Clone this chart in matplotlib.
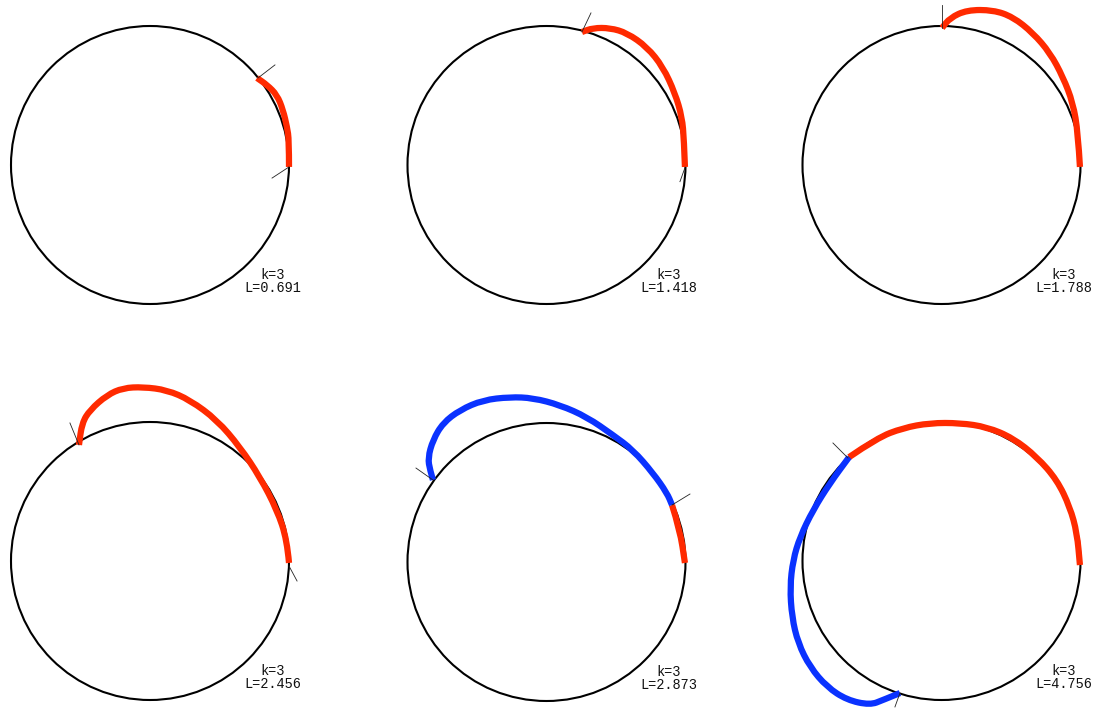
import numpy as np
import matplotlib.pyplot as plt
from matplotlib.patches import Circle, PathPatch
from matplotlib.path import Path

# panel labels
k_vals = [3, 3, 3, 3, 3, 3]
L_vals = ["0.691", "1.418", "1.788", "2.456", "2.873", "4.756"]

# curve points (unit circle coords)
red1 = [(0.77, 0.626), (0.842, 0.576), (0.914, 0.504), (0.957, 0.396),
        (0.986, 0.273), (1.0, 0.18), (1.0, -0.014)]
red2 = [(0.255, 0.957), (0.335, 0.986), (0.457, 0.986), (0.579, 0.95),
        (0.723, 0.849), (0.838, 0.705), (0.924, 0.518), (0.975, 0.345),
        (0.989, 0.18), (0.996, -0.014)]
red3 = [(0.004, 0.986), (0.061, 1.058), (0.183, 1.115), (0.371, 1.115),
        (0.514, 1.065), (0.658, 0.95), (0.781, 0.806), (0.874, 0.633),
        (0.946, 0.446), (0.982, 0.23), (0.996, -0.014)]
red4 = [(-0.511, 0.835), (-0.489, 0.993), (-0.432, 1.086), (-0.309, 1.194),
        (-0.194, 1.245), (-0.05, 1.252), (0.122, 1.23), (0.288, 1.158),
        (0.482, 1.014), (0.647, 0.82), (0.791, 0.604), (0.914, 0.367),
        (0.986, 0.151), (1.0, -0.014)]
red5 = [(0.996, -0.007), (0.96, 0.23), (0.903, 0.41)]
blue5 = [(0.903, 0.41), (0.867, 0.496), (0.766, 0.64), (0.622, 0.806),
         (0.478, 0.914), (0.291, 1.043), (0.097, 1.129), (-0.097, 1.18),
         (-0.263, 1.187), (-0.457, 1.165), (-0.622, 1.094), (-0.745, 1.0),
         (-0.817, 0.878), (-0.853, 0.748), (-0.838, 0.662), (-0.817, 0.59)]
red6 = [(0.996, -0.029), (0.975, 0.201), (0.924, 0.388), (0.831, 0.583),
        (0.687, 0.748), (0.514, 0.885), (0.327, 0.964), (0.133, 0.993),
        (-0.083, 0.993), (-0.277, 0.957), (-0.464, 0.885), (-0.665, 0.747)]
blue6 = [(-0.665, 0.747), (-0.802, 0.561), (-0.924, 0.367), (-1.018, 0.173),
         (-1.068, 0.007), (-1.09, -0.187), (-1.076, -0.403), (-1.032, -0.59),
         (-0.946, -0.763), (-0.824, -0.906), (-0.68, -1.0), (-0.514, -1.036),
         (-0.421, -1.0), (-0.299, -0.95)]

# small end ticks: (x0, y0, x1, y1)
ticks1 = [(0.777, 0.626, 0.899, 0.72), (1.0, -0.014, 0.878, -0.094)]
ticks2 = [(0.255, 0.957, 0.32, 1.094), (0.996, -0.02, 0.96, -0.12)]
ticks3 = [(0.004, 0.986, 0.004, 1.151)]
ticks4 = [(-0.511, 0.835, -0.576, 0.993), (1.0, -0.036, 1.058, -0.144)]
ticks5 = [(-0.817, 0.59, -0.939, 0.676), (0.903, 0.41, 1.032, 0.489)]
ticks6 = [(-0.673, 0.741, -0.781, 0.849), (-0.299, -0.95, -0.335, -1.05)]

reds = [red1, red2, red3, red4, red5, red6]
blues = [None, None, None, None, blue5, blue6]
ticks = [ticks1, ticks2, ticks3, ticks4, ticks5, ticks6]

RED = '#ff2a00'
BLUE = '#0a32ff'

W, H = 1097, 713
centers = [(150, 165), (546.5, 165), (941.5, 165),
           (150, 561), (546.5, 562), (941.5, 561)]
scale = 139.0
half = 1.4


def smooth_path(pts):
    # quadratic bezier through midpoints, ends kept exact
    p = np.array(pts, dtype=float)
    if len(p) < 3:
        return Path(p)
    verts = [p[0], (p[0] + p[1]) / 2]
    codes = [Path.MOVETO, Path.LINETO]
    for j in range(1, len(p) - 1):
        end = (p[j] + p[j + 1]) / 2 if j < len(p) - 2 else p[-1]
        verts += [p[j], end]
        codes += [Path.CURVE3, Path.CURVE3]
    return Path(verts, codes)


def draw_curve(ax, pts, color):
    patch = PathPatch(smooth_path(pts), fill=False, ec=color, lw=4.5,
                      capstyle='butt', joinstyle='round', clip_on=False)
    ax.add_patch(patch)


fig = plt.figure(figsize=(W / 100, H / 100), dpi=100)
fig.patch.set_facecolor('white')

for i, (cx, cy) in enumerate(centers):
    size = 2 * half * scale
    ax = fig.add_axes([(cx - size / 2) / W, (H - cy - size / 2) / H, size / W, size / H])
    ax.set_xlim(-half, half)
    ax.set_ylim(-half, half)
    ax.set_aspect('equal')
    ax.axis('off')

    ax.add_patch(Circle((0, 0), 1.0, fill=False, ec='black', lw=1.5, clip_on=False))

    for (x0, y0, x1, y1) in ticks[i]:
        ax.plot([x0, x1], [y0, y1], color='#222222', lw=0.6, clip_on=False)

    draw_curve(ax, reds[i], RED)
    if blues[i] is not None:
        draw_curve(ax, blues[i], BLUE)

    ax.text(0.88, -0.79, "k=%d" % k_vals[i], ha='center', va='center',
            family='Liberation Mono', fontsize=9.8, color='#111111')
    ax.text(0.88, -0.885, "L=" + L_vals[i], ha='center', va='center',
            family='Liberation Mono', fontsize=9.8, color='#111111')

fig.savefig('out.png', dpi=100, facecolor='white')
